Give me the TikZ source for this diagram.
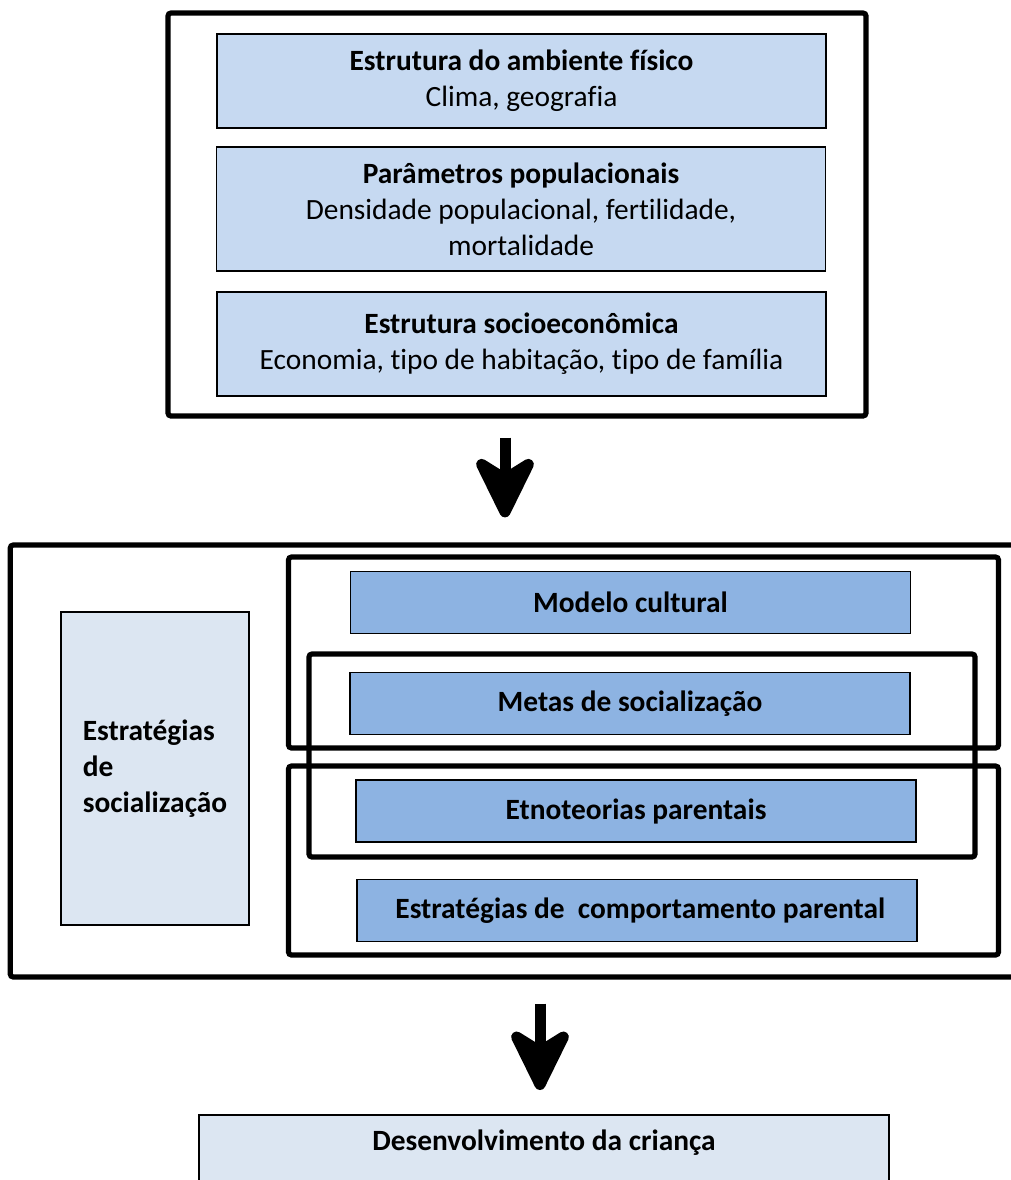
\documentclass[tikz,border=0pt]{standalone}
\usepackage{fontspec}
\setmainfont[Ligatures={NoCommon}]{Carlito}
\usetikzlibrary{arrows.meta}
\definecolor{paleblue}{HTML}{C6D9F1}
\definecolor{lightblue}{HTML}{DCE6F2}
\definecolor{midblue}{HTML}{8DB3E2}
\begin{document}
\begin{tikzpicture}[x=0.5pt,y=-0.5pt,
	frame/.style={draw,line width=2.6pt,rounded corners=1.5pt,inner sep=0pt},
	box/.style={draw,line width=0.8pt,inner sep=0pt,align=center,font=\fontsize{14.7}{18}\selectfont},
	topbox/.style={box,fill=paleblue,minimum width=304.5pt},
	goalbox/.style={box,fill=midblue,minimum width=280pt,minimum height=31pt,font=\fontsize{14.7}{18}\selectfont\bfseries},
	bigarrow/.style={line width=5.5pt,-{Stealth[length=37pt,width=36pt,inset=11pt,round]}}]
		\clip (0,0) rectangle (1011,1180);
		
		% context
		\node [frame,minimum width=349pt,minimum height=201.5pt] (topframe) at (517,214.5) {};
		\node [topbox,minimum height=47pt] (ambiente) at (521.5,81) {\textbf{Estrutura do ambiente físico}\\Clima, geografia};
		\node [topbox,minimum height=62pt] (populacao) at (521,209) {\textbf{Parâmetros populacionais}\\Densidade populacional, fertilidade,\\mortalidade};
		\node [topbox,minimum height=52pt] (socioeco) at (521.5,344) {\textbf{Estrutura socioeconômica}\\Economia, tipo de habitação, tipo de família};
		
		% socialization
		\node [frame,minimum width=514.75pt,minimum height=216pt] (midframe) at (525,761) {};
		\node [box,fill=lightblue,minimum width=94pt,minimum height=156.5pt,align=left,font=\fontsize{14.7}{18}\selectfont\bfseries] (estrategias) at (155,768.5) {Estratégias\\de\\socialização};
		\node [goalbox] (modelo) at (630.5,602.5) {Modelo cultural};
		\node [goalbox] (metas) at (630,703.5) {Metas de socialização};
		\node [goalbox] (etno) at (636,811) {Etnoteorias parentais};
		\node [goalbox] (comport) at (637,910.5) {\ Estratégias de\ \ comportamento parental};
		\node [frame,minimum width=355pt,minimum height=95.5pt] (grupoa) at (643.5,652.5) {};
		\node [frame,minimum width=333pt,minimum height=101.5pt] (grupob) at (642,755.5) {};
		\node [frame,minimum width=355pt,minimum height=94.5pt] (grupoc) at (643.5,860.5) {};
		
		% outcome
		\node [box,fill=lightblue,minimum width=345pt,minimum height=60pt,anchor=north,
			label={[anchor=center,yshift=-14.5pt,font=\fontsize{14.7}{18}\selectfont\bfseries]north:Desenvolvimento da criança}] (crianca) at (544,1114) {};
		
		\coordinate (arrowone) at ([xshift=-6pt]topframe.south);
		\coordinate (arrowtwo) at ([xshift=-2pt]crianca.north);
		\draw [bigarrow,shorten <=9.5pt,shorten >=12.5pt] (arrowone) -- (arrowone |- midframe.north);
		\draw [bigarrow,shorten <=12pt,shorten >=12pt] (arrowtwo |- midframe.south) -- (arrowtwo);
		\end{tikzpicture}
\end{document}
